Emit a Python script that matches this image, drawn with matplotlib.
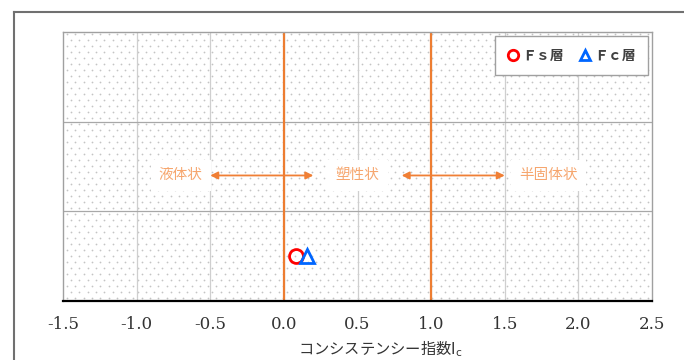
import matplotlib
matplotlib.use("Agg")
import numpy as np
import matplotlib.pyplot as plt
from matplotlib.lines import Line2D

plt.rcParams['font.family'] = ['Noto Sans CJK JP', 'DejaVu Sans']

# Consistency index values of each layer
layers = ['Ｆｓ層', 'Ｆｃ層']
ic_values = [0.08, 0.16]
plot_y = [0.5, 0.5]
layer_colors = ['#FF0000', '#0066FF']
layer_markers = ['o', '^']

# State boundaries (Ic = 0 and Ic = 1) and region labels
boundaries = [0.0, 1.0]
state_labels = ['液体状', '塑性状', '半固体状']
state_label_x = [-0.7, 0.5, 1.8]
arrow_spans = [(-0.5, 0.2), (0.8, 1.5)]
label_y = 1.4

x_ticks = [-1.5, -1.0, -0.5, 0.0, 0.5, 1.0, 1.5, 2.0, 2.5]
x_label = r'コンシステンシー指数$\mathrm{I}_\mathrm{c}$'

W, H = 684, 360
fig = plt.figure(figsize=(W / 100, H / 100), dpi=100)
ax_left, ax_right, ax_top, ax_bottom = 63, 652, 32, 301
ax = fig.add_axes([ax_left / W, 1 - ax_bottom / H,
                   (ax_right - ax_left) / W, (ax_bottom - ax_top) / H])

# outer chart frame
fig.add_artist(Line2D([14 / W, 14 / W], [0, 1 - 12 / H], color='#707070', lw=1.5,
                      transform=fig.transFigure))
fig.add_artist(Line2D([14 / W, 1.0], [1 - 12 / H, 1 - 12 / H], color='#707070', lw=1.5,
                      transform=fig.transFigure))

ax.set_xlim(x_ticks[0], x_ticks[-1])
ax.set_ylim(0, 3)

# staggered dot texture for the plot-area fill (spacing in pixels)
aw, ah = ax_right - ax_left, ax_bottom - ax_top
step_x, step_y = 8.3, 6.0
tex_x, tex_y = [], []
for i, py in enumerate(np.arange(3.0, ah, step_y)):
    start = 4.0 if i % 2 == 0 else 4.0 + step_x / 2
    xs = np.arange(start, aw, step_x)
    tex_x.extend(xs / aw)
    tex_y.extend([py / ah] * len(xs))
ax.scatter(tex_x, tex_y, s=1.6, c='#c4c4c4', linewidths=0, marker='o',
           transform=ax.transAxes, zorder=0)

for xv in x_ticks[1:-1]:
    ax.axvline(xv, color='#cfcfcf', lw=0.9, zorder=1)
for yv in [1, 2]:
    ax.axhline(yv, color='#a8a8a8', lw=0.9, zorder=1)

for b in boundaries:
    ax.axvline(b, color='#ED7D31', lw=1.6, zorder=2)

for (x0, x1) in arrow_spans:
    ax.annotate('', xy=(x0, label_y), xytext=(x1, label_y),
                arrowprops=dict(arrowstyle='<|-|>', color='#F07F35', lw=1.3,
                                shrinkA=0, shrinkB=0, mutation_scale=11),
                zorder=3)

for lbl, lx in zip(state_labels, state_label_x):
    ax.text(lx, label_y, lbl, ha='center', va='center', fontsize=10.5,
            color='#F6A66E', zorder=4,
            bbox=dict(facecolor='white', edgecolor='none', pad=6))

for name, xv, yv, c, m in zip(layers, ic_values, plot_y, layer_colors, layer_markers):
    ax.plot([xv], [yv], linestyle='none', marker=m, markersize=10,
            markerfacecolor='none', markeredgecolor=c, markeredgewidth=2,
            label=name, zorder=5)

leg = ax.legend(loc='upper right', ncol=2, frameon=True, fancybox=False,
                markerscale=0.75, handlelength=0.8, handletextpad=0.25,
                columnspacing=1.1, borderpad=0.9, borderaxespad=0.3,
                prop={'family': ['Noto Sans CJK JP'], 'size': 10, 'weight': 'bold'})
leg.get_frame().set_edgecolor('#a0a0a0')
leg.get_frame().set_linewidth(1.0)
leg.get_frame().set_alpha(1.0)
for t in leg.get_texts():
    t.set_color('#404040')

ax.set_xticks(x_ticks)
ax.set_xticklabels([f'{v:.1f}' for v in x_ticks], family='DejaVu Serif',
                   fontsize=12, color='#333333')
ax.set_yticks([])
ax.tick_params(axis='x', length=0, pad=11)

for side in ['top', 'right', 'left']:
    ax.spines[side].set_color('#a0a0a0')
    ax.spines[side].set_linewidth(1.0)
ax.spines['bottom'].set_color('black')
ax.spines['bottom'].set_linewidth(1.6)

fig.text(380 / W, 1 - 349 / H, x_label, ha='center', va='center',
         fontsize=11, color='#333333')

fig.savefig('out.png', dpi=100, facecolor='white')
